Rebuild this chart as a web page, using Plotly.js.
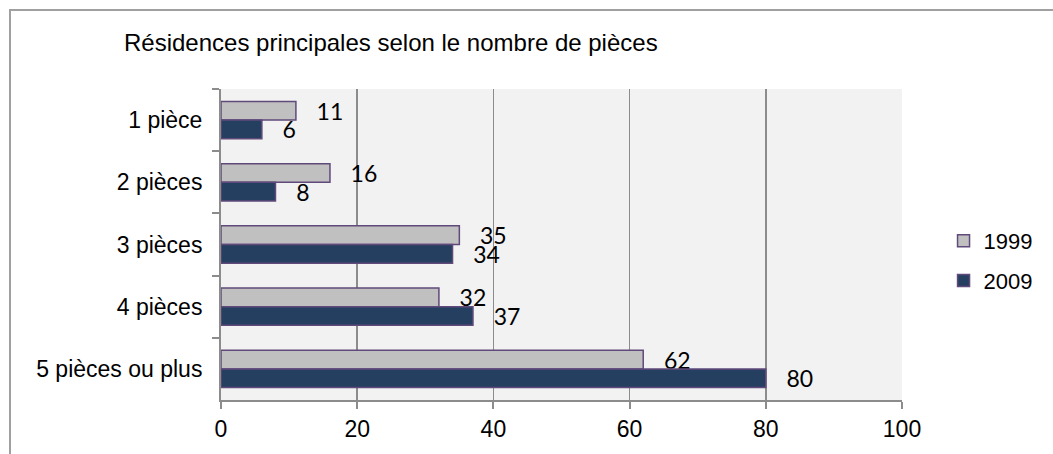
<!DOCTYPE html>
<html>
<head>
<meta charset="utf-8">
<script src="https://cdn.plot.ly/plotly-3.0.1.min.js"></script>
<style>
html,body{margin:0;padding:0;background:#fff;}
#wrap{position:relative;width:1053px;height:454px;overflow:hidden;}
#chart{position:absolute;left:0;top:0;width:1053px;height:454px;}
#frame{position:absolute;left:9px;top:9px;width:1100px;height:500px;border-left:2px solid #a0a0a0;border-top:2px solid #a0a0a0;pointer-events:none;}
</style>
</head>
<body>
<div id="wrap"><div id="chart"></div><div id="frame"></div></div>
<script>
var categories = ["1 pièce", "2 pièces", "3 pièces", "4 pièces", "5 pièces ou plus"];
var values1999 = [11, 16, 35, 32, 62];
var values2009 = [6, 8, 34, 37, 80];
var seriesNames = ["1999", "2009"];
var xTicks = [0, 20, 40, 60, 80, 100];
var titleText = "Résidences principales selon le nombre de pièces";

var pad = "\u00a0\u00a0\u00a0";
var labelFont = {family: "Lato, 'Open Sans', sans-serif", size: 23, color: "#000"};
var axisFont = "'Liberation Sans', Arial, sans-serif";

var traces = [
  {
    type: "bar", orientation: "h", name: seriesNames[0],
    x: values1999, y: categories,
    marker: {color: "#c0c0c0", line: {color: "#604a7b", width: 1.5}},
    text: values1999.map(String), texttemplate: pad + "%{text}",
    textposition: "outside", constraintext: "none", cliponaxis: false,
    textfont: labelFont, legendgroup: "a", hoverinfo: "x+name"
  },
  {
    type: "bar", orientation: "h", name: seriesNames[1],
    x: values2009, y: categories,
    marker: {color: "#243f60", line: {color: "#604a7b", width: 1.5}},
    text: values2009.map(String), texttemplate: pad + "%{text}",
    textposition: "outside", constraintext: "none", cliponaxis: false,
    textfont: labelFont, legendgroup: "b", hoverinfo: "x+name"
  }
];

var layout = {
  width: 1053, height: 454,
  margin: {l: 221, r: 151, t: 89, b: 54, pad: 0},
  paper_bgcolor: "#ffffff",
  plot_bgcolor: "#f2f2f2",
  barmode: "group",
  bargap: 0.4,
  bargroupgap: 0,
  font: {family: axisFont, size: 23, color: "#000"},
  annotations: [{
    text: titleText, showarrow: false,
    font: {family: axisFont, size: 24, color: "#000"},
    xref: "paper", x: (122 - 221) / 681, xanchor: "left",
    yref: "paper", y: (400 - 43) / 311, yanchor: "middle"
  }],
  xaxis: {
    range: [0, 100], tickvals: xTicks, ticktext: xTicks.map(String),
    showgrid: true, gridcolor: "#8c8c8c", gridwidth: 1.5,
    zeroline: false, showline: true, linecolor: "#8c8c8c", linewidth: 2,
    ticks: "outside", ticklen: 7, tickcolor: "#8c8c8c", tickwidth: 2,
    tickfont: {size: 23, color: "#000"}, fixedrange: true
  },
  yaxis: {
    type: "category", categoryorder: "array", categoryarray: categories,
    autorange: "reversed",
    showgrid: false, zeroline: false, showline: true, linecolor: "#8c8c8c", linewidth: 2,
    ticks: "outside", tickson: "boundaries", ticklen: 7, tickcolor: "#8c8c8c", tickwidth: 2,
    ticklabelstandoff: 12,
    tickfont: {size: 23, color: "#000"}, fixedrange: true
  },
  showlegend: true,
  legend: {
    x: 1.061, xanchor: "left", y: 0.447, yanchor: "middle",
    traceorder: "grouped", tracegroupgap: 8,
    font: {size: 22, color: "#000"}, bgcolor: "rgba(0,0,0,0)"
  }
};

Plotly.newPlot("chart", traces, layout, {displayModeBar: false, staticPlot: true});
</script>
</body>
</html>
